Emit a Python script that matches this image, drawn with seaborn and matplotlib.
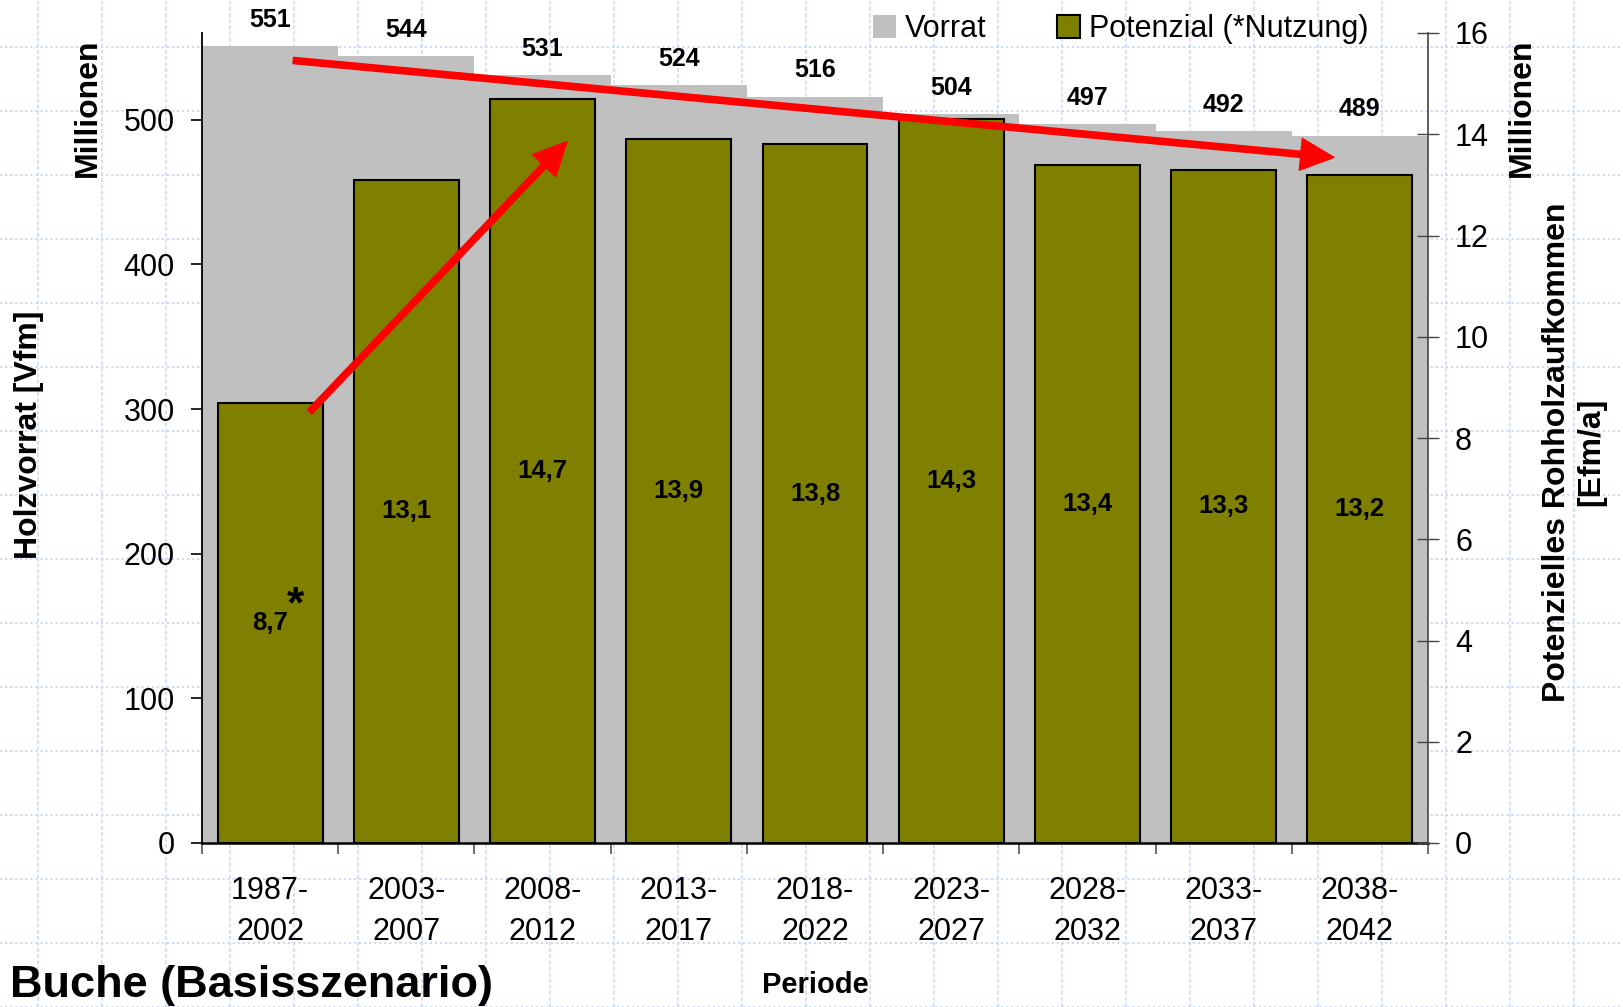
import numpy as np
import matplotlib
matplotlib.use("Agg")
import matplotlib.pyplot as plt
import matplotlib.patches as mpatches
import seaborn as sns

# ── DATA ──────────────────────────────────────────────────────────────────────
PERIODS   = ["1987-\n2002", "2003-\n2007", "2008-\n2012", "2013-\n2017", "2018-\n2022",
             "2023-\n2027", "2028-\n2032", "2033-\n2037", "2038-\n2042"]
VORRAT    = [551, 544, 531, 524, 516, 504, 497, 492, 489]          # Mio Vfm
POTENZIAL = [8.7, 13.1, 14.7, 13.9, 13.8, 14.3, 13.4, 13.3, 13.2]  # Mio Efm/a

# trend arrows (category index, Vfm on left axis)
ARROW_DOWN = ((0.17, 541), (7.81, 474))
ARROW_UP   = ((0.29, 298), (2.18, 485))

GRAY  = "#c0c0c0"
OLIVE = "#808000"
RED   = "#ff0000"
GRIDC = "#c9d6f4"

W, H = 1623, 1007

sns.set_style("white")
plt.rcParams.update({
    "text.color"      : "black",
    "axes.labelcolor" : "black",
    "xtick.color"     : "black",
    "ytick.color"     : "black",
})
plt.rcParams["font.family"] = ["Liberation Sans", "DejaVu Sans"]

fig = plt.figure(figsize=(W / 100, H / 100), dpi=100, facecolor="white")

# ── background dotted slide grid ─────────────────────────────────────────────
bg = fig.add_axes([0, 0, 1, 1], zorder=-1)
bg.set_xlim(0, W)
bg.set_ylim(H, 0)
bg.axis("off")
for y in np.arange(46.7, H, 64):
    bg.axhline(y, color=GRIDC, lw=1.3, ls=(0, (1.2, 1.6)))
for x in np.arange(38, W, 64):
    bg.axvline(x, color=GRIDC, lw=1.1, ls=(0, (2.5, 1.5)))

# ── main axes ─────────────────────────────────────────────────────────────────
L, R, T, B = 202, 1428, 33, 843
ax = fig.add_axes([L / W, 1 - B / H, (R - L) / W, (B - T) / H])
ax.set_facecolor("none")
idx = list(range(len(PERIODS)))

sns.barplot(x=idx, y=VORRAT, color=GRAY, saturation=1,
            width=1.0, linewidth=0, ax=ax)
ax.set_ylim(0, 560)
ax.set_yticks(range(0, 501, 100))

for i, v in enumerate(VORRAT):
    ax.annotate(f"{v}", xy=(i, v), xytext=(0, 14), textcoords="offset points",
                ha="center", va="baseline", fontsize=18, fontweight="bold")

ax2 = ax.twinx()
sns.barplot(x=idx, y=POTENZIAL, color=OLIVE, saturation=1,
            width=0.77, edgecolor="black", linewidth=1.5, ax=ax2)
ax2.set_ylim(0, 16)
ax2.set_yticks(range(0, 17, 2))

for i, v in enumerate(POTENZIAL):
    ax2.text(i, v / 2, f"{v:.1f}".replace(".", ","), ha="center", va="center",
             fontsize=18.5, fontweight="bold")
ax2.annotate("*", xy=(0, POTENZIAL[0] / 2), xytext=(18, 4), textcoords="offset points",
             ha="center", va="baseline", fontsize=32, fontweight="bold")

# red trend arrows
for (x0, y0), (x1, y1) in (ARROW_DOWN, ARROW_UP):
    ax2.annotate("", xy=(x1, y1), xytext=(x0, y0),
                 xycoords=ax.transData, textcoords=ax.transData,
                 arrowprops=dict(width=4.5, headwidth=23, headlength=24,
                                 facecolor=RED, edgecolor=RED, shrink=0))

# ── spines & ticks ────────────────────────────────────────────────────────────
for a in (ax, ax2):
    a.spines["top"].set_visible(False)
    a.grid(False)
    a.set_xlabel("")
    a.set_ylabel("")
ax.spines["right"].set_visible(False)
ax2.spines["left"].set_visible(False)
ax2.spines["bottom"].set_visible(False)
ax.spines["left"].set_color("black")
ax.spines["left"].set_linewidth(1.3)
ax.spines["bottom"].set_color("black")
ax.spines["bottom"].set_linewidth(1.8)
ax2.spines["right"].set_color("#444444")
ax2.spines["right"].set_linewidth(1.2)

ax.tick_params(axis="y", direction="out", length=8, width=1.2, pad=11.5,
               labelsize=22, left=True)
ax2.tick_params(axis="y", direction="inout", length=16, width=1.0, pad=11.5,
                labelsize=22, right=True, colors="#444444", labelcolor="black")

# x axis: labels at bar centres, tick marks at category borders
ax.set_xlim(-0.5, len(PERIODS) - 0.5)
ax.set_xticks(idx)
ax.set_xticklabels(PERIODS)
ax.set_xticks(np.arange(-0.5, len(PERIODS)), minor=True)
ax.tick_params(axis="x", which="major", length=0, pad=24, labelsize=22,
               labelbottom=True, bottom=True)
ax.tick_params(axis="x", which="minor", direction="out", length=8, width=1.2,
               color="#555555", bottom=True)
ax2.tick_params(axis="x", which="both", bottom=False, labelbottom=False)
for lab in ax.get_xticklabels():
    lab.set_linespacing(1.45)

# ── texts ─────────────────────────────────────────────────────────────────────
fig.text(29 / W, 1 - 435 / H, "Holzvorrat [Vfm]", rotation=90, ha="center",
         va="center", fontsize=23, fontweight="bold")
fig.text(88 / W, 1 - 108 / H, "Millionen", rotation=90, ha="center",
         va="center", fontsize=23, fontweight="bold")
fig.text(1522 / W, 1 - 108 / H, "Millionen", rotation=90, ha="center",
         va="center", fontsize=23, fontweight="bold")
fig.text(1574 / W, 1 - 452 / H, "Potenzielles Rohholzaufkommen\n[Efm/a]",
         rotation=90, ha="center", va="center", multialignment="center",
         linespacing=1.2, fontsize=23, fontweight="bold")
fig.text(815 / W, 1 - 985 / H, "Periode", ha="center", va="center",
         fontsize=21, fontweight="bold")
fig.text(10 / W, 1 - 985 / H, "Buche (Basisszenario)", ha="left", va="center",
         fontsize=32.5, fontweight="bold")

handles = [mpatches.Patch(facecolor=GRAY, edgecolor="none", label="Vorrat"),
           mpatches.Patch(facecolor=OLIVE, edgecolor="black", linewidth=1.5,
                          label="Potenzial (*Nutzung)")]
fig.legend(handles=handles, loc="center", bbox_to_anchor=(1121 / W, 1 - 29 / H),
           ncol=2, frameon=False, fontsize=22, handlelength=0.75,
           handleheight=0.8, handletextpad=0.3, columnspacing=2.3, borderpad=0)

fig.savefig("out.png", dpi=100, facecolor="white")
